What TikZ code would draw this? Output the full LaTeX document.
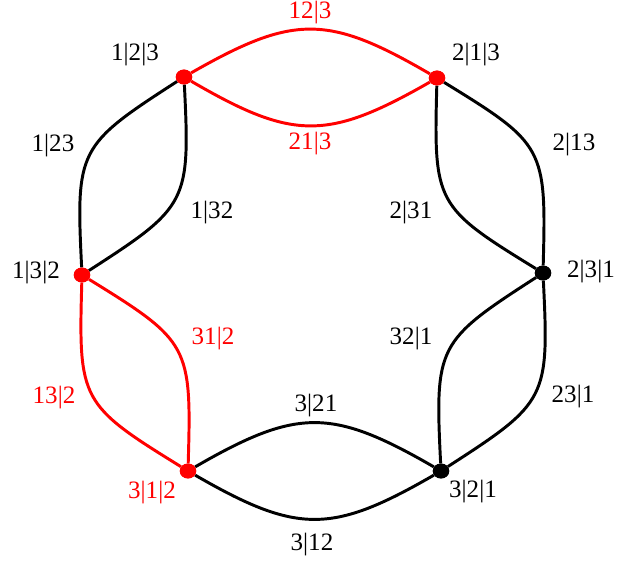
\documentclass[tikz,border=0pt]{standalone}
\usepackage{fontspec}
\setmainfont{Liberation Serif}
\usetikzlibrary{shapes.geometric}

\tikzset{
  dot/.style={ellipse, fill, inner sep=0pt, minimum width=11.7pt, minimum height=10.6pt},
  lbl/.style={font=\fontsize{17.8}{20}\selectfont, inner sep=0pt},
  bow/.style={line width=2.1pt, distance=2.95cm},
}

\begin{document}
\begin{tikzpicture}[x=0.025cm, y=-0.025cm]
    \useasboundingbox (0,0) rectangle (619,561);
    % vertices
    \node[dot, red]   (p123) at (184,77)  {};
    \node[dot, red]   (p213) at (437,78)  {};
    \node[dot, black] (p231) at (543,273) {};
    \node[dot, black] (p321) at (441,471) {};
    \node[dot, red]   (p312) at (188,471) {};
    \node[dot, red]   (p132) at (82,275)  {};
    % edges
    \draw[bow, red]   (p123) to[bend left=30]  (p213);
    \draw[bow, red]   (p123) to[bend right=30] (p213);
    \draw[bow, black] (p213) to[bend left=30]  (p231);
    \draw[bow, black] (p213) to[bend right=30] (p231);
    \draw[bow, black] (p231) to[bend left=30]  (p321);
    \draw[bow, black] (p231) to[bend right=30] (p321);
    \draw[bow, black] (p321) to[bend left=30]  (p312);
    \draw[bow, black] (p321) to[bend right=30] (p312);
    \draw[bow, red]   (p312) to[bend left=30]  (p132);
    \draw[bow, red]   (p312) to[bend right=30] (p132);
    \draw[bow, black] (p132) to[bend left=30]  (p123);
    \draw[bow, black] (p132) to[bend right=30] (p123);
    % redraw vertices on top
    \node[dot, red]   at (p123) {};
    \node[dot, red]   at (p213) {};
    \node[dot, black] at (p231) {};
    \node[dot, black] at (p321) {};
    \node[dot, red]   at (p312) {};
    \node[dot, red]   at (p132) {};
    % vertex labels
    \node[lbl] (t123) at (135,55)  {1|2|3};
    \node[lbl] (t213) at (476,55)  {2|1|3};
    \node[lbl] (t231) at (591,272) {2|3|1};
    \node[lbl] (t321) at (473,492) {3|2|1};
    \node[lbl, red] (t312) at (152,493) {3|1|2};
    \node[lbl] (t132) at (36,273)  {1|3|2};
    % edge labels
    \node[lbl, red] (e123a) at (310,13)  {12|3};
    \node[lbl, red] (e123b) at (310,144) {21|3};
    \node[lbl] (e213a) at (574,145) {2|13};
    \node[lbl] (e213b) at (411,213) {2|31};
    \node[lbl] (e231a) at (573,397) {23|1};
    \node[lbl] (e231b) at (411,339) {32|1};
    \node[lbl] (e321a) at (316,406) {3|21};
    \node[lbl] (e321b) at (312,545) {3|12};
    \node[lbl, red] (e312a) at (54,398)  {13|2};
    \node[lbl, red] (e312b) at (213,339) {31|2};
    \node[lbl] (e132a) at (53,146)  {1|23};
    \node[lbl] (e132b) at (212,213) {1|32};
\end{tikzpicture}
\end{document}
